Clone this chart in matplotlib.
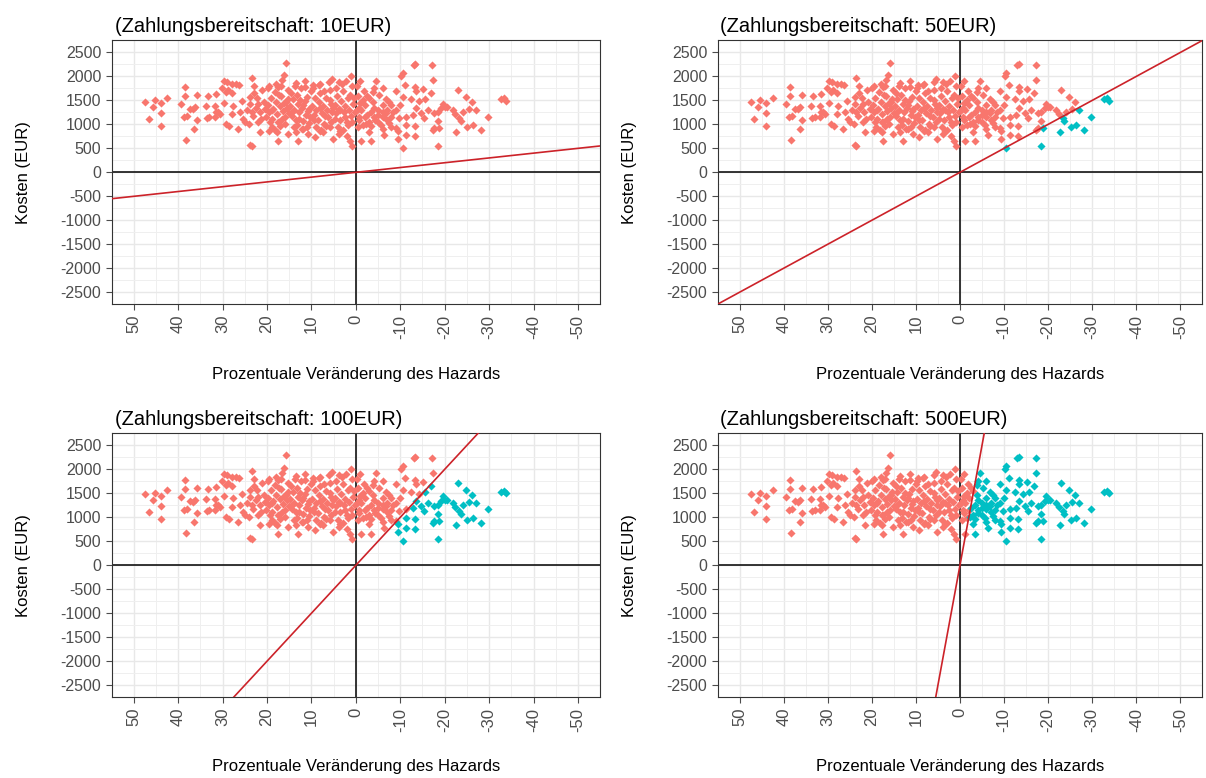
import numpy as np
import matplotlib.pyplot as plt

plt.rcParams['font.family'] = ['Liberation Sans', 'DejaVu Sans']
plt.rcParams['axes.unicode_minus'] = False

# Prozentuale Veraenderung des Hazards / Kosten (EUR)
hazard = [
    47.4, 45.3, 44.0, 42.5, 45.8, 44.0, 46.7, 44.0, 38.5, 38.5, 39.4, 35.8, 33.4, 31.5, 29.7, 30.2,
    29.3, 29.8, 33.7, 31.8, 37.4, 36.7, 36.2, 38.7, 38.1, 35.8, 33.5, 33.0, 31.5, 31.0, 30.6, 31.8,
    29.3, 28.5, 36.4, 38.3,
    15.8, 23.5, 26.9, 26.3, 27.9, 29.1, 16.3, 16.7, 19.5, 17.5, 22.9, 13.5, 11.4, 9.6, 8.1, 27.9,
    28.8, 23.9, 25.7, 27.6, 26.1, 28.0, 25.4, 25.0, 26.5, 22.0, 21.6, 19.5, 17.6, 17.8, 15.2, 13.5,
    13.0, 17.5, 23.9, 23.5, 11.8, 10.7, 9.2, 8.1,
    5.4, 3.9, 5.1, 3.5, 5.8, 7.3, 1.3, 0.9,
    24.5, 23.8, 23.1, 22.6, 22.2, 21.7, 21.3, 20.8, 20.4, 24.0, 22.9, 21.1, 20.2, 23.5, 22.0,
    19.8, 19.5, 19.2, 18.9, 18.6, 18.3, 18.0, 17.7, 17.4, 17.1, 16.8, 16.5, 16.2, 15.9, 15.6, 15.3,
    15.0, 19.0, 18.2, 17.0, 16.0, 15.4, 19.9, 17.9, 16.6, 18.8, 17.3, 15.7, 16.9, 19.3,
    14.8, 14.5, 14.2, 13.9, 13.6, 13.3, 13.0, 12.7, 12.4, 12.1, 11.8, 11.5, 11.2, 10.9, 10.6, 10.3,
    10.0, 14.0, 13.2, 12.2, 11.0, 14.6, 13.8, 12.9, 11.9, 10.8, 14.3, 12.5, 11.4, 10.5,
    9.8, 9.5, 9.2, 8.9, 8.6, 8.3, 8.0, 7.7, 7.4, 7.1, 6.8, 6.5, 6.2, 5.9, 5.6, 5.3,
    9.0, 7.9, 6.7, 5.5, 9.7, 8.4, 7.2, 6.0, 9.4, 8.1, 6.9, 5.8, 5.1,
    4.8, 4.5, 4.2, 3.9, 3.6, 3.3, 3.0, 2.7, 2.4, 2.1, 1.8, 1.5, 1.2, 0.9, 0.6, 0.3,
    4.0, 2.9, 1.7, 0.8, 4.4, 3.2, 2.2, 1.1, 4.7, 3.5, 2.5, 1.4, 0.4, 2.0, 3.8,
    -0.3, -0.5, -0.7, -0.2, -0.9, -0.4, -1.0, -0.6,
    -13.0, -17.2, -10.5, -10.2, -4.5, -17.3, -11.1, -13.3, -15.1, -13.5, -6.0, -23.0, -9.0, -3.8,
    -16.9, -24.7, -26.1, -32.7, -15.6, -14.3, -12.4, -10.5, -6.8, -7.5, -5.3, -3.8, -19.6, -20.0,
    -19.2, -21.8, -24.1, -25.4, -27.1, -29.7, -16.2, -17.7, -18.4, -13.5, -14.7, -12.8, -11.3,
    -9.8, -8.3, -6.8, -6.0, -4.9, -4.2, -3.4, -2.6, -11.3, -13.2, -15.4, -18.4, -17.7, -17.3,
    -18.8, -23.3, -23.7, -25.1, -26.3, -28.1, -22.6, -3.4, -5.6, -7.5, -9.0, -9.4, -11.3, -13.2,
    -6.4, -3.4, -9.4, -10.5, -18.4, -1.1, -1.5, -0.8, -1.1,
    -2.0, -3.0, -4.0, -5.0, -6.0, -7.0, -8.0, -5.0, -7.0, -4.0, -3.0, -6.0, -8.0, -9.0, -10.0,
    -2.5, -4.0, -1.5, -2.0, -3.0, -6.0, -8.0, -13.4, -33.3, -33.9, -20.5, -22.4, -1.8, -2.2,
]
kosten = [
    1476, 1512, 1449, 1560, 1357, 1245, 1105, 966, 1777, 1596, 1428, 1609, 1588, 1623, 1896, 1756,
    1672, 1441, 1386, 1386, 1329, 1315, 1357, 1161, 1176, 1092, 1126, 1147, 1252, 1266, 1218, 1161,
    1008, 972, 909, 678,
    2289, 1974, 1848, 1812, 1848, 1882, 2022, 1932, 1798, 1777, 1791, 1861, 1896, 1812, 1848, 1651,
    1722, 1567, 1483, 1392, 1252, 1218, 1113, 1042, 903, 1042, 832, 867, 1042, 832, 798, 832,
    657, 657, 573, 552, 903, 798, 727, 867,
    1953, 1882, 693, 867, 937, 832, 657, 552,
    1300, 1420, 1180, 1350, 1560, 1250, 1110, 1470, 1320, 1000, 1650, 1720, 1150, 1250, 1430,
    1400, 1250, 1560, 1120, 1330, 1680, 1470, 1210, 1050, 1380, 1590, 1280, 1440, 1150, 1350, 1720,
    1240, 950, 880, 960, 1000, 1530, 1750, 1850, 1120, 1290, 1620, 1470, 1800, 1050,
    1390, 1180, 1530, 1300, 1100, 1620, 1420, 1250, 1750, 1350, 1060, 1480, 1200, 1580, 1330, 1150,
    1700, 950, 990, 900, 950, 1650, 1800, 1120, 1400, 1270, 1260, 1500, 1780, 1020,
    1380, 1200, 1560, 1290, 1090, 1470, 1650, 1230, 1380, 1010, 1550, 1300, 1150, 1720, 1420, 1250,
    950, 880, 960, 1050, 1750, 1820, 1700, 1880, 1100, 1340, 1180, 1500, 1350,
    1400, 1230, 1590, 1320, 1100, 1480, 1700, 1260, 1390, 1040, 1560, 1310, 1170, 1800, 1420, 1250,
    950, 880, 990, 1050, 1750, 1850, 1900, 2000, 1120, 1290, 1150, 1620, 1550, 750, 800,
    1300, 1600, 1150, 1800, 1450, 950, 1900, 1350,
    2240, 2240, 2070, 2015, 1913, 1927, 1825, 1777, 1728, 1687, 1763, 1722, 1687, 1675,
    1654, 1572, 1470, 1537, 1537, 1482, 1537, 1572, 1537, 1470, 1605, 1470, 1435, 1367,
    1332, 1298, 1265, 1318, 1291, 1162, 1298, 1230, 1265, 1332, 1230, 1195, 1162,
    1127, 1265, 1230, 1162, 1195, 1093, 1265, 1195, 990, 957, 1127, 1060, 922, 888,
    922, 1127, 1060, 943, 990, 875, 840, 957, 990, 1025, 922, 855, 773, 752,
    785, 650, 703, 512, 547, 650, 990, 1093, 1298,
    1400, 1550, 1350, 1300, 1400, 1300, 1400, 1050, 1100, 1150, 1050, 1250, 1150, 1300, 1400,
    1600, 1750, 1500, 1150, 850, 900, 950, 2253, 1546, 1497, 1357, 1218, 1700, 1000,
]
wtp = [10, 50, 100, 500]
titles = ["(Zahlungsbereitschaft: 10EUR)", "(Zahlungsbereitschaft: 50EUR)",
          "(Zahlungsbereitschaft: 100EUR)", "(Zahlungsbereitschaft: 500EUR)"]

hazard = np.array(hazard)
kosten = np.array(kosten)

fig = plt.figure(figsize=(12.06, 7.78), dpi=100)
pos = [[0.0926, 0.609, 0.405, 0.339], [0.595, 0.609, 0.402, 0.339],
       [0.0926, 0.104, 0.405, 0.339], [0.595, 0.104, 0.402, 0.339]]

for i in range(4):
    ax = fig.add_axes(pos[i])
    w = wtp[i]
    # unter der Geraden -> lohnt sich
    unter = kosten < -w * hazard
    ax.scatter(hazard[~unter], kosten[~unter], marker='D', s=17, color='#F8766D', linewidths=0, zorder=3)
    ax.scatter(hazard[unter], kosten[unter], marker='D', s=17, color='#00BFC4', linewidths=0, zorder=3)
    ax.axhline(0, color='black', lw=1.1, zorder=2)
    ax.axvline(0, color='black', lw=1.1, zorder=2)
    xs = np.array([60, -60])
    ax.plot(xs, -w * xs, color='#CC2229', lw=1.2, zorder=4)

    ax.set_xlim(55, -55)
    ax.set_ylim(-2750, 2750)
    ax.set_xticks(np.arange(50, -51, -10))
    ax.set_xticks(np.arange(45, -46, -10), minor=True)
    ax.set_yticks(np.arange(-2500, 2501, 500))
    ax.set_yticks(np.arange(-2250, 2251, 500), minor=True)
    ax.grid(True, which='major', color='#E8E8E8', lw=1.0, zorder=0)
    ax.grid(True, which='minor', color='#EFEFEF', lw=0.7, zorder=0)
    ax.set_axisbelow(True)
    ax.tick_params(axis='x', which='major', labelrotation=90, labelsize=12, colors='#4D4D4D', length=4)
    ax.tick_params(axis='y', which='major', labelsize=11.5, colors='#4D4D4D', length=4)
    ax.tick_params(which='minor', length=0)
    for s in ax.spines.values():
        s.set_color('#333333')
        s.set_linewidth(0.8)
    ax.set_xlabel("Prozentuale Veränderung des Hazards", fontsize=12, labelpad=20)
    ax.set_ylabel("Kosten (EUR)", fontsize=12, labelpad=21)
    ax.set_title(titles[i], loc='left', fontsize=14.5, pad=6, x=0.006)

fig.savefig("out.png", dpi=100)
